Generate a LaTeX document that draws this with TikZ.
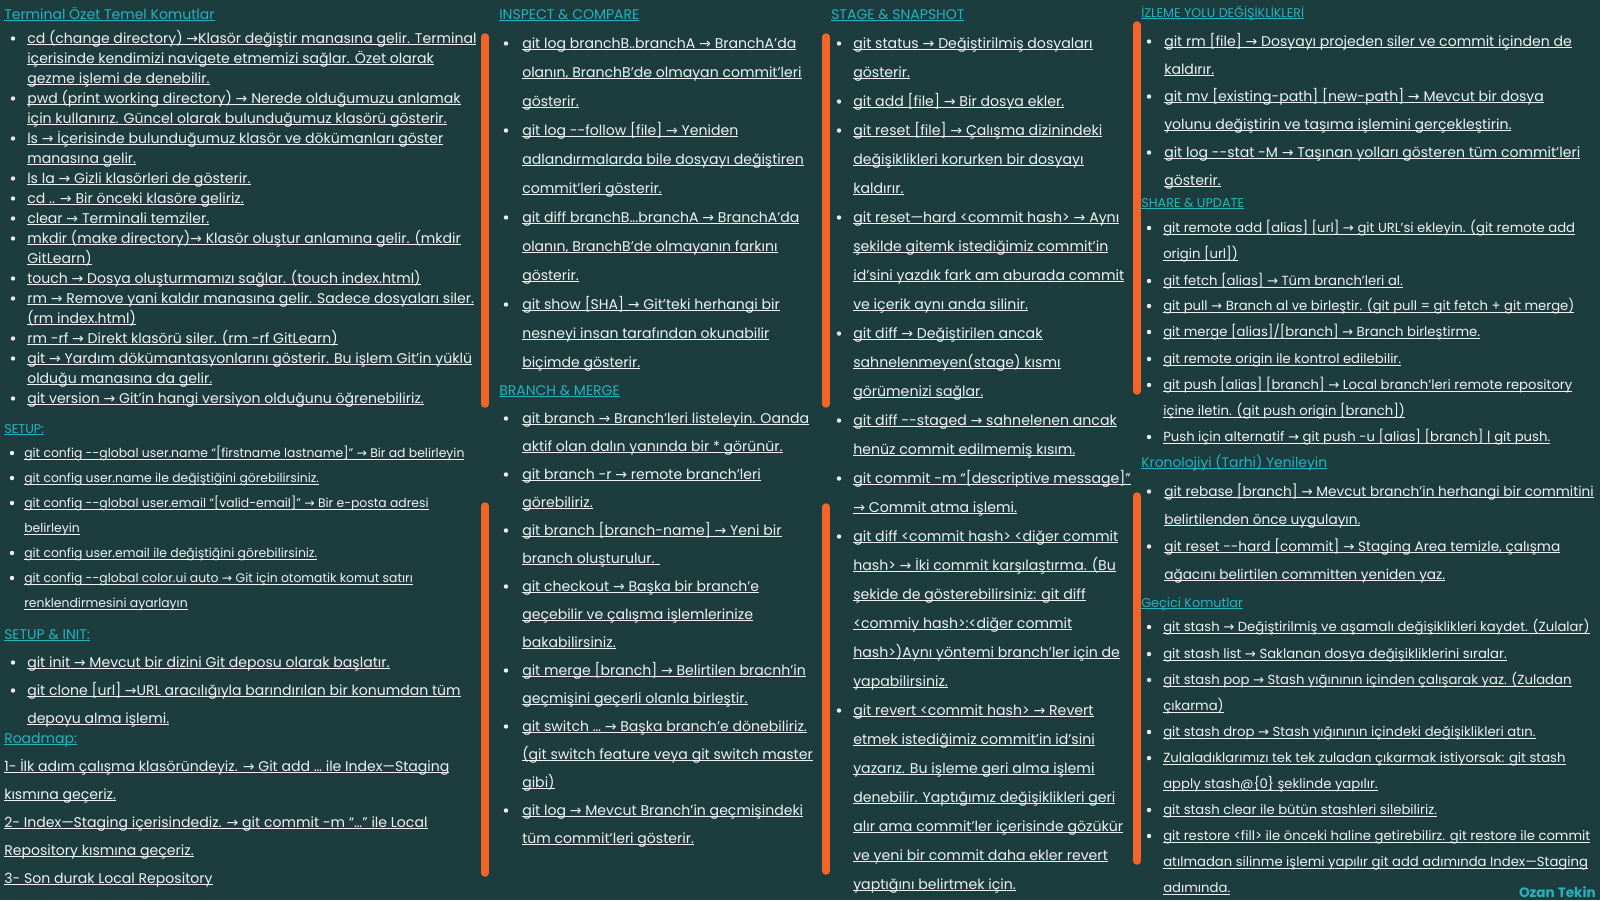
\documentclass[tikz,border=0pt]{standalone}
\usepackage{fontspec}
\usepackage{newunicodechar}
\setmainfont{Poppins}
\newfontfamily\arrowfont{DejaVu Sans}
\newunicodechar{→}{{\arrowfont\symbol{"2192}}}
\definecolor{bgc}{HTML}{1C3C3E}
\definecolor{fgc}{HTML}{F0F2F2}
\definecolor{hdc}{HTML}{22B4C0}
\definecolor{barc}{HTML}{F46429}
\newsavebox{\ulbox}
\newcommand{\uln}[1]{\sbox\ulbox{#1}\rlap{\rule[-1.6pt]{\wd\ulbox}{0.8pt}}\usebox\ulbox}
\newcommand{\fs}[2]{\fontsize{#1}{#2}\selectfont}
\newcommand{\lns}[1]{\begin{tabular}[t]{@{}l@{}}#1\end{tabular}}
\def\boff{14}
\newcommand{\gitem}[4]{%
  \fill[fgc] (#2-\boff,#3-4.5) circle (2.2);
  \node[item] (#1) at (#2,#3) {\lns{#4}};}
\tikzset{
  item/.style={anchor=base west, inner sep=0pt, text=fgc},
  head/.style={anchor=base west, inner sep=0pt, text=hdc, font=\fs{10.5}{12}},
  subhead/.style={head, font=\fs{9.6}{11}},
  bar/.style={draw=barc, line width=5.6pt, line cap=round},
}

\begin{document}
\begin{tikzpicture}[x=0.75pt,y=0.75pt,yscale=-1,xscale=1]
\useasboundingbox (0,0) rectangle (1600,900);
\fill[bgc] (0,0) rectangle (1600,900);

%Straight Lines (orange bars)
\draw[bar] (485,37) -- (485,404);
\draw[bar] (485,506) -- (485,873);
\draw[bar] (826,37) -- (826,404);
\draw[bar] (826,507) -- (826,871);
\draw[bar] (1137,25) -- (1137,391);
\draw[bar] (1137,496) -- (1137,861);

% column 1
\begin{scope}[every node/.append style={font=\fs{10.55}{15}}]
\node[head] (termhead) at (4,19) {\uln{Terminal Özet Temel Komutlar}};
\gitem{cd}{27}{43}{\uln{cd (change directory) →Klasör değiştir manasına gelir. Terminal}\\\uln{içerisinde kendimizi navigete etmemizi sağlar. Özet olarak}\\\uln{gezme işlemi de denebilir.}}
\gitem{pwd}{27}{103}{\uln{pwd (print working directory) → Nerede olduğumuzu anlamak}\\\uln{için kullanırız. Güncel olarak bulunduğumuz klasörü gösterir.}}
\gitem{ls}{27}{143}{\uln{ls → İçerisinde bulunduğumuz klasör ve dökümanları göster}\\\uln{manasına gelir.}}
\gitem{lsla}{27}{183}{\uln{ls la → Gizli klasörleri de gösterir.}}
\gitem{cdup}{27}{203}{\uln{cd .. → Bir önceki klasöre geliriz.}}
\gitem{clear}{27}{223}{\uln{clear → Terminali temziler.}}
\gitem{mkdir}{27}{243}{\uln{mkdir (make directory)→ Klasör oluştur anlamına gelir. (mkdir}\\\uln{GitLearn)}}
\gitem{touch}{27}{283}{\uln{touch → Dosya oluşturmamızı sağlar. (touch index.html)}}
\gitem{rm}{27}{303}{\uln{rm → Remove yani kaldır manasına gelir. Sadece dosyaları siler.}\\\uln{(rm index.html)}}
\gitem{rmrf}{27}{343}{\uln{rm -rf → Direkt klasörü siler. (rm -rf GitLearn)}}
\gitem{gitcmd}{27}{363}{\uln{git → Yardım dökümantasyonlarını gösterir. Bu işlem Git’in yüklü}\\\uln{olduğu manasına da gelir.}}
\gitem{gitver}{27}{403}{\uln{git version → Git’in hangi versiyon olduğunu öğrenebiliriz.}}
\end{scope}

\begin{scope}[every node/.append style={font=\fs{9.3}{18.75}}]
\def\boff{12}
\node[subhead] (setuphead) at (4,433) {\uln{SETUP:}};
\gitem{cfgname}{24}{457.5}{\uln{git config -{}-global user.name “[firstname lastname]” → Bir ad belirleyin}}
\gitem{cfgnamechk}{24}{482.5}{\uln{git config user.name ile değiştiğini görebilirsiniz.}}
\gitem{cfgmail}{24}{507.5}{\uln{git config -{}-global user.email “[valid-email]” → Bir e-posta adresi}\\\uln{belirleyin}}
\gitem{cfgmailchk}{24}{557.5}{\uln{git config user.email ile değiştiğini görebilirsiniz.}}
\gitem{cfgcolor}{24}{582.5}{\uln{git config -{}-global color.ui auto → Git için otomatik komut satırı}\\\uln{renklendirmesini ayarlayın}}
\end{scope}

\begin{scope}[every node/.append style={font=\fs{10.55}{21}}]
\node[head] (inithead) at (4,639) {\uln{SETUP \& INIT:}};
\gitem{init}{27}{667}{\uln{git init → Mevcut bir dizini Git deposu olarak başlatır.}}
\gitem{clone}{27}{695}{\uln{git clone [url] →URL aracılığıyla barındırılan bir konumdan tüm}\\\uln{depoyu alma işlemi.}}
\node[head] (roadhead) at (4,743) {\uln{Roadmap:}};
\node[item] (road1) at (4,771) {\lns{\uln{1- İlk adım çalışma klasöründeyiz. → Git add … ile Index—Staging}\\\uln{kısmına geçeriz.}}};
\node[item] (road2) at (4,827) {\lns{\uln{2- Index—Staging içerisindediz. → git commit -m “…” ile Local}\\\uln{Repository kısmına geçeriz.}}};
\node[item] (road3) at (4,883) {\uln{3- Son durak Local Repository}};
\end{scope}

% column 2
\begin{scope}[every node/.append style={font=\fs{10.55}{21.75}}]
\def\boff{16}
\node[head] (inspecthead) at (499,19) {\uln{INSPECT \& COMPARE}};
\gitem{logab}{522}{48}{\uln{git log branchB..branchA → BranchA’da}\\\uln{olanın, BranchB'de olmayan commit'leri}\\\uln{gösterir.}}
\gitem{follow}{522}{135}{\uln{git log -{}-follow [file] → Yeniden}\\\uln{adlandırmalarda bile dosyayı değiştiren}\\\uln{commit'leri gösterir.}}
\gitem{diffab}{522}{222}{\uln{git diff branchB...branchA → BranchA’da}\\\uln{olanın, BranchB'de olmayanın farkını}\\\uln{gösterir.}}
\gitem{show}{522}{309}{\uln{git show [SHA] → Git’teki herhangi bir}\\\uln{nesneyi insan tarafından okunabilir}\\\uln{biçimde gösterir.}}
\end{scope}

\begin{scope}[every node/.append style={font=\fs{10.55}{21}}]
\def\boff{16}
\node[head] (branchhead) at (499,395) {\uln{BRANCH \& MERGE}};
\gitem{branch}{522}{423}{\uln{git branch → Branch'leri listeleyin. Oanda}\\\uln{aktif olan dalın yanında bir * görünür.}}
\gitem{branchr}{522}{479}{\uln{git branch -r → remote branch'leri}\\\uln{görebiliriz.}}
\gitem{branchnew}{522}{535}{\uln{git branch [branch-name] → Yeni bir}\\\uln{branch oluşturulur. }}
\gitem{checkout}{522}{591}{\uln{git checkout → Başka bir branch'e}\\\uln{geçebilir ve çalışma işlemlerinize}\\\uln{bakabilirsiniz.}}
\gitem{merge}{522}{675}{\uln{git merge [branch] → Belirtilen bracnh'in}\\\uln{geçmişini geçerli olanla birleştir.}}
\gitem{switch}{522}{731}{\uln{git switch … → Başka branch'e dönebiliriz.}\\\uln{(git switch feature veya git switch master}\\\uln{gibi)}}
\gitem{gitlog}{522}{815}{\uln{git log → Mevcut Branch'in geçmişindeki}\\\uln{tüm commit'leri gösterir.}}
\end{scope}

% column 3
\begin{scope}[every node/.append style={font=\fs{10.6}{21.75}}]
\node[head] (stagehead) at (831,19) {\uln{STAGE \& SNAPSHOT}};
\gitem{status}{853}{48}{\uln{git status → Değiştirilmiş dosyaları}\\\uln{gösterir.}}
\gitem{add}{853}{106}{\uln{git add [file] → Bir dosya ekler.}}
\gitem{reset}{853}{135}{\uln{git reset [file] → Çalışma dizinindeki}\\\uln{değişiklikleri korurken bir dosyayı}\\\uln{kaldırır.}}
\gitem{resethard}{853}{222}{\uln{git reset—hard <commit hash> → Aynı}\\\uln{şekilde gitemk istediğimiz commit’in}\\\uln{id’sini yazdık fark am aburada commit}\\\uln{ve içerik aynı anda silinir.}}
\gitem{diff}{853}{338}{\uln{git diff → Değiştirilen ancak}\\\uln{sahnelenmeyen(stage) kısmı}\\\uln{görümenizi sağlar.}}
\gitem{staged}{853}{425}{\uln{git diff -{}-staged → sahnelenen ancak}\\\uln{henüz commit edilmemiş kısım.}}
\gitem{commit}{853}{483}{\uln{git commit -m “[descriptive message]”}\\\uln{→ Commit atma işlemi.}}
\gitem{diffhash}{853}{541}{\uln{git diff <commit hash> <diğer commit}\\\uln{hash> → İki commit karşılaştırma. (Bu}\\\uln{şekide de gösterebilirsiniz: git diff}\\\uln{<commiy hash>:<diğer commit}\\\uln{hash>)Aynı yöntemi branch’ler için de}\\\uln{yapabilirsiniz.}}
\gitem{revert}{853}{715}{\uln{git revert <commit hash> → Revert}\\\uln{etmek istediğimiz commit’in id’sini}\\\uln{yazarız. Bu işleme geri alma işlemi}\\\uln{denebilir. Yaptığımız değişiklikleri geri}\\\uln{alır ama commit’ler içerisinde gözükür}\\\uln{ve yeni bir commit daha ekler revert}\\\uln{yaptığını belirtmek için.}}
\end{scope}

% column 4
\begin{scope}[every node/.append style={font=\fs{10.55}{21}}]
\def\boff{15}
\node[subhead, font=\fs{9.5}{11}] (trackhead) at (1141,17) {\uln{İZLEME YOLU DEĞİŞİKLİKLERİ}};
\gitem{gitrm}{1164}{46}{\uln{git rm [file] → Dosyayı projeden siler ve commit içinden de}\\\uln{kaldırır.}}
\gitem{gitmv}{1164}{101}{\uln{git mv [existing-path] [new-path] → Mevcut bir dosya}\\\uln{yolunu değiştirin ve taşıma işlemini gerçekleştirin.}}
\gitem{logstat}{1164}{157}{\uln{git log -{}-stat -M → Taşınan yolları gösteren tüm commit’leri}\\\uln{gösterir.}}
\end{scope}

\begin{scope}[every node/.append style={font=\fs{9.9}{19.5}}]
\def\boff{14}
\node[subhead] (sharehead) at (1141,207) {\uln{SHARE \& UPDATE}};
\gitem{remoteadd}{1163}{232.5}{\uln{git remote add [alias] [url] → git URL’si ekleyin. (git remote add}\\\uln{origin [url])}}
\gitem{fetch}{1163}{285.5}{\uln{git fetch [alias] → Tüm branch’leri al.}}
\gitem{pull}{1163}{310.5}{\uln{git pull → Branch al ve birleştir. (git pull = git fetch + git merge)}}
\gitem{mergealias}{1163}{336.5}{\uln{git merge [alias]/[branch] → Branch birleştirme.}}
\gitem{origin}{1163}{363.5}{\uln{git remote origin ile kontrol edilebilir.}}
\gitem{push}{1163}{389.5}{\uln{git push [alias] [branch] → Local branch’leri remote repository}\\\uln{içine iletin. (git push origin [branch])}}
\gitem{pushalt}{1163}{441.5}{\uln{Push için alternatif → git push -u [alias] [branch] | git push.}}
\end{scope}

\begin{scope}[every node/.append style={font=\fs{10.25}{21}}]
\def\boff{15}
\node[head, font=\fs{10.4}{12}] (rebasehead) at (1141,467) {\uln{Kronolojiyi (Tarhi) Yenileyin}};
\gitem{rebase}{1164}{496}{\uln{git rebase [branch] → Mevcut branch'in herhangi bir commitini}\\\uln{belirtilenden önce uygulayın.}}
\gitem{resetcommit}{1164}{551}{\uln{git reset -{}-hard [commit] → Staging Area temizle, çalışma}\\\uln{ağacını belirtilen committen yeniden yaz.}}
\end{scope}

\begin{scope}[every node/.append style={font=\fs{9.9}{19.5}}]
\def\boff{14}
\node[subhead] (stashhead) at (1141,607) {\uln{Geçici Komutlar}};
\gitem{stash}{1163}{631.5}{\uln{git stash → Değiştirilmiş ve aşamalı değişiklikleri kaydet. (Zulalar)}}
\gitem{stashlist}{1163}{658.5}{\uln{git stash list → Saklanan dosya değişikliklerini sıralar.}}
\gitem{stashpop}{1163}{684.5}{\uln{git stash pop → Stash yığınının içinden çalışarak yaz. (Zuladan}\\\uln{çıkarma)}}
\gitem{stashdrop}{1163}{736.5}{\uln{git stash drop → Stash yığınının içindeki değişiklikleri atın.}}
\gitem{stashapply}{1163}{762.5}{\uln{Zulaladıklarımızı tek tek zuladan çıkarmak istiyorsak: git stash}\\\uln{apply stash@\{0\} şeklinde yapılır.}}
\gitem{stashclear}{1163}{814.5}{\uln{git stash clear ile bütün stashleri silebiliriz.}}
\gitem{restore}{1163}{840.5}{\uln{git restore <fill> ile önceki haline getirebilirz. git restore ile commit}\\\uln{atılmadan silinme işlemi yapılır git add adımında Index—Staging}\\\uln{adımında.}}
\end{scope}

\node[anchor=base east, inner sep=0pt, text=hdc, font=\fs{10.2}{12}\bfseries] (author) at (1596,897) {Ozan Tekin};

\end{tikzpicture}
\end{document}
